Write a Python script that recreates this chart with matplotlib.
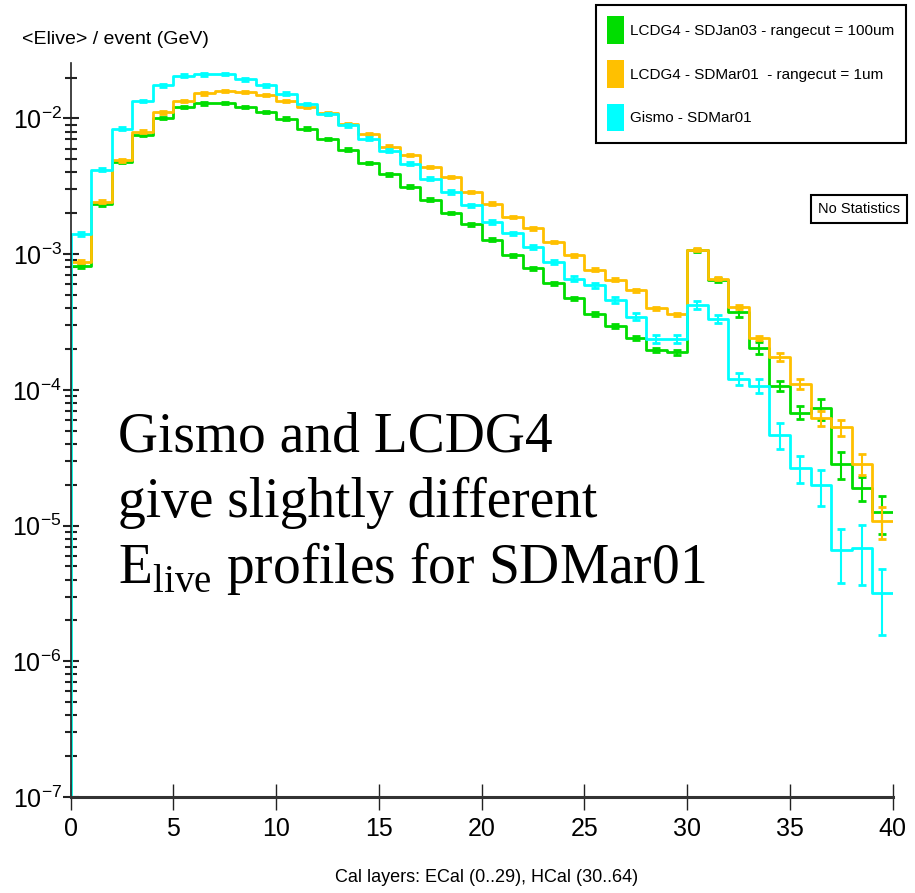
import numpy as np
import matplotlib
matplotlib.use('Agg')
import matplotlib.pyplot as plt
from matplotlib.patches import Patch
from matplotlib.ticker import LogLocator, FuncFormatter, NullFormatter

# Cal layer bins 0..39
layer_edges = np.arange(0, 41)

# <Elive>/event per layer (GeV)
green_vals = [8.2e-4, 2.33e-3, 4.77e-3, 7.6e-3, 1.01e-2, 1.21e-2, 1.29e-2, 1.30e-2, 1.21e-2, 1.12e-2,
              9.95e-3, 8.4e-3, 7.05e-3, 5.9e-3, 4.69e-3, 3.87e-3, 3.13e-3, 2.52e-3, 2.01e-3, 1.66e-3,
              1.28e-3, 9.8e-4, 7.85e-4, 6.1e-4, 4.72e-4, 3.62e-4, 2.96e-4, 2.4e-4, 1.97e-4, 1.89e-4,
              1.07e-3, 6.5e-4, 3.76e-4, 2.05e-4, 1.07e-4, 6.8e-5, 7.3e-5, 2.86e-5, 1.89e-5, 1.26e-5]
green_err = [2.5e-5, 6e-5, 1.1e-4, 1.7e-4, 2.2e-4, 2.6e-4, 2.7e-4, 2.7e-4, 2.5e-4, 2.3e-4,
             2.1e-4, 1.8e-4, 1.5e-4, 1.3e-4, 1.1e-4, 9e-5, 7.5e-5, 6.2e-5, 5e-5, 4.2e-5,
             3.4e-5, 2.7e-5, 2.2e-5, 1.8e-5, 1.5e-5, 1.2e-5, 1.0e-5, 9e-6, 8e-6, 8e-6,
             2.5e-5, 2.2e-5, 3.2e-5, 2e-5, 9e-6, 7.5e-6, 1.3e-5, 6.4e-6, 3.8e-6, 3.9e-6]

orange_vals = [8.8e-4, 2.43e-3, 4.9e-3, 8.0e-3, 1.11e-2, 1.35e-2, 1.53e-2, 1.60e-2, 1.56e-2, 1.49e-2,
               1.35e-2, 1.21e-2, 1.09e-2, 9.1e-3, 7.7e-3, 6.2e-3, 5.35e-3, 4.39e-3, 3.7e-3, 2.87e-3,
               2.36e-3, 1.88e-3, 1.55e-3, 1.23e-3, 9.8e-4, 7.7e-4, 6.5e-4, 5.4e-4, 4.0e-4, 3.6e-4,
               1.08e-3, 6.6e-4, 4.06e-4, 2.4e-4, 1.74e-4, 1.11e-4, 6.2e-5, 5.3e-5, 2.86e-5, 1.08e-5]
orange_err = [2.5e-5, 6e-5, 1.1e-4, 1.8e-4, 2.4e-4, 2.8e-4, 3.1e-4, 3.2e-4, 3.1e-4, 3.0e-4,
              2.8e-4, 2.5e-4, 2.2e-4, 1.9e-4, 1.6e-4, 1.3e-4, 1.1e-4, 9e-5, 7.5e-5, 6e-5,
              5e-5, 4e-5, 3.3e-5, 2.7e-5, 2.2e-5, 1.8e-5, 1.5e-5, 1.3e-5, 1.0e-5, 1.0e-5,
              2.5e-5, 1.8e-5, 1.3e-5, 8e-6, 1.2e-5, 9.5e-6, 8e-6, 7.2e-6, 4.9e-6, 2.9e-6]

cyan_vals = [1.40e-3, 4.2e-3, 8.4e-3, 1.34e-2, 1.75e-2, 2.07e-2, 2.11e-2, 2.13e-2, 1.94e-2, 1.75e-2,
             1.52e-2, 1.28e-2, 1.08e-2, 8.9e-3, 7.1e-3, 5.8e-3, 4.65e-3, 3.6e-3, 2.87e-3, 2.29e-3,
             1.73e-3, 1.42e-3, 1.12e-3, 8.8e-4, 6.6e-4, 5.9e-4, 4.6e-4, 3.46e-4, 2.37e-4, 2.37e-4,
             4.22e-4, 3.33e-4, 1.2e-4, 1.07e-4, 4.67e-5, 2.65e-5, 1.98e-5, 6.6e-6, 6.85e-6, 3.16e-6]
cyan_err = [5e-5, 1.0e-4, 2e-4, 3e-4, 3.5e-4, 4e-4, 4e-4, 4e-4, 3.8e-4, 3.5e-4,
            3.2e-4, 2.8e-4, 2.4e-4, 2.0e-4, 1.7e-4, 1.4e-4, 1.2e-4, 9e-5, 8e-5, 6.5e-5,
            5e-5, 4.5e-5, 3.8e-5, 3.2e-5, 2.6e-5, 2.5e-5, 2.2e-5, 2e-5, 1.6e-5, 1.5e-5,
            3e-5, 2.1e-5, 1.2e-5, 1.3e-5, 9.8e-6, 5.9e-6, 5.9e-6, 2.8e-6, 3.2e-6, 1.6e-6]

labels = ["LCDG4 - SDJan03 - rangecut = 100um",
          "LCDG4 - SDMar01  - rangecut = 1um",
          "Gismo - SDMar01"]
colors = ['#00dd00', '#ffc000', '#00ffff']

sans = ['Liberation Sans', 'DejaVu Sans']
plt.rcParams['font.family'] = sans

fig = plt.figure(figsize=(9.15, 8.93), dpi=100)
W, H = 915, 893
ax = fig.add_axes([70.7 / W, 1 - 797 / H, (892.7 - 70.7) / W, (797 - 63) / H])
ax.set_yscale('log')
ax.set_xlim(0, 40)
ax.set_ylim(1e-7, 0.0256)

centers = layer_edges[:-1] + 0.5
ylow = 1e-7
for vals, err, c in zip([green_vals, orange_vals, cyan_vals],
                        [green_err, orange_err, cyan_err], colors):
    vals = np.array(vals)
    xs = np.concatenate([[layer_edges[0]], layer_edges])
    ys = np.concatenate([[ylow], vals, [vals[-1]]])
    ax.step(xs, ys, where='post', color=c, lw=2)
    ax.errorbar(centers, vals, yerr=err, fmt='none', ecolor=c,
                elinewidth=1.5, capsize=3, capthick=2)

# axes styling
for s in ['top', 'right']:
    ax.spines[s].set_visible(False)
ax.spines['left'].set_linewidth(1.2)
ax.spines['left'].set_color('#222222')
ax.spines['bottom'].set_linewidth(2.2)
ax.spines['bottom'].set_color('#333333')

ax.set_xticks(np.arange(0, 41, 5))
ax.tick_params(axis='x', direction='inout', length=19, width=1, pad=5,
               labelsize=18, color='#222222')
ax.yaxis.set_major_locator(LogLocator(base=10, numticks=10))
ax.yaxis.set_minor_locator(LogLocator(base=10, subs=np.arange(2, 10), numticks=20))
ax.yaxis.set_minor_formatter(NullFormatter())
ax.yaxis.set_major_formatter(FuncFormatter(
    lambda v, _: r'$\mathregular{10^{%d}}$' % int(round(np.log10(v)))))
ax.tick_params(axis='y', which='major', direction='inout', length=11, width=1.5,
               pad=1, labelsize=18, color='#222222')
ax.tick_params(axis='y', which='minor', direction='inout', length=8, width=1.5,
               color='#222222')

fig.text(22 / W, 1 - 40 / H, '<Elive> / event (GeV)', va='center', ha='left', fontsize=14)
fig.text(487 / W, 1 - 878 / H, 'Cal layers: ECal (0..29), HCal (30..64)',
         va='center', ha='center', fontsize=13)

# legend
handles = [Patch(facecolor=c, edgecolor='none', label=l) for c, l in zip(colors, labels)]
leg = fig.legend(handles=handles, loc='upper right', bbox_to_anchor=(906 / W, 1 - 5 / H),
                 prop={'family': sans, 'size': 11}, handlelength=1.1, handleheight=2.4,
                 handletextpad=0.4, labelspacing=1.05, borderpad=0.75, borderaxespad=0,
                 frameon=True, fancybox=False, edgecolor='black', framealpha=1)
leg.get_frame().set_linewidth(1.5)

fig.text(859 / W, 1 - 209 / H, 'No Statistics', ha='center', va='center', fontsize=10.5,
         bbox=dict(facecolor='white', edgecolor='black', lw=1.5, boxstyle='square,pad=0.45'))

# annotation
serif = ['Liberation Serif', 'DejaVu Serif']
fig.text(118 / W, 1 - 452 / H, 'Gismo and LCDG4', family=serif, fontsize=40, va='baseline')
fig.text(118 / W, 1 - 517 / H, 'give slightly different', family=serif, fontsize=40, va='baseline')
fig.text(118 / W, 1 - 583 / H, r'E$_\mathregular{live}$ profiles for SDMar01', family=serif,
         fontsize=40, va='baseline')

fig.savefig('out.png', dpi=100)
